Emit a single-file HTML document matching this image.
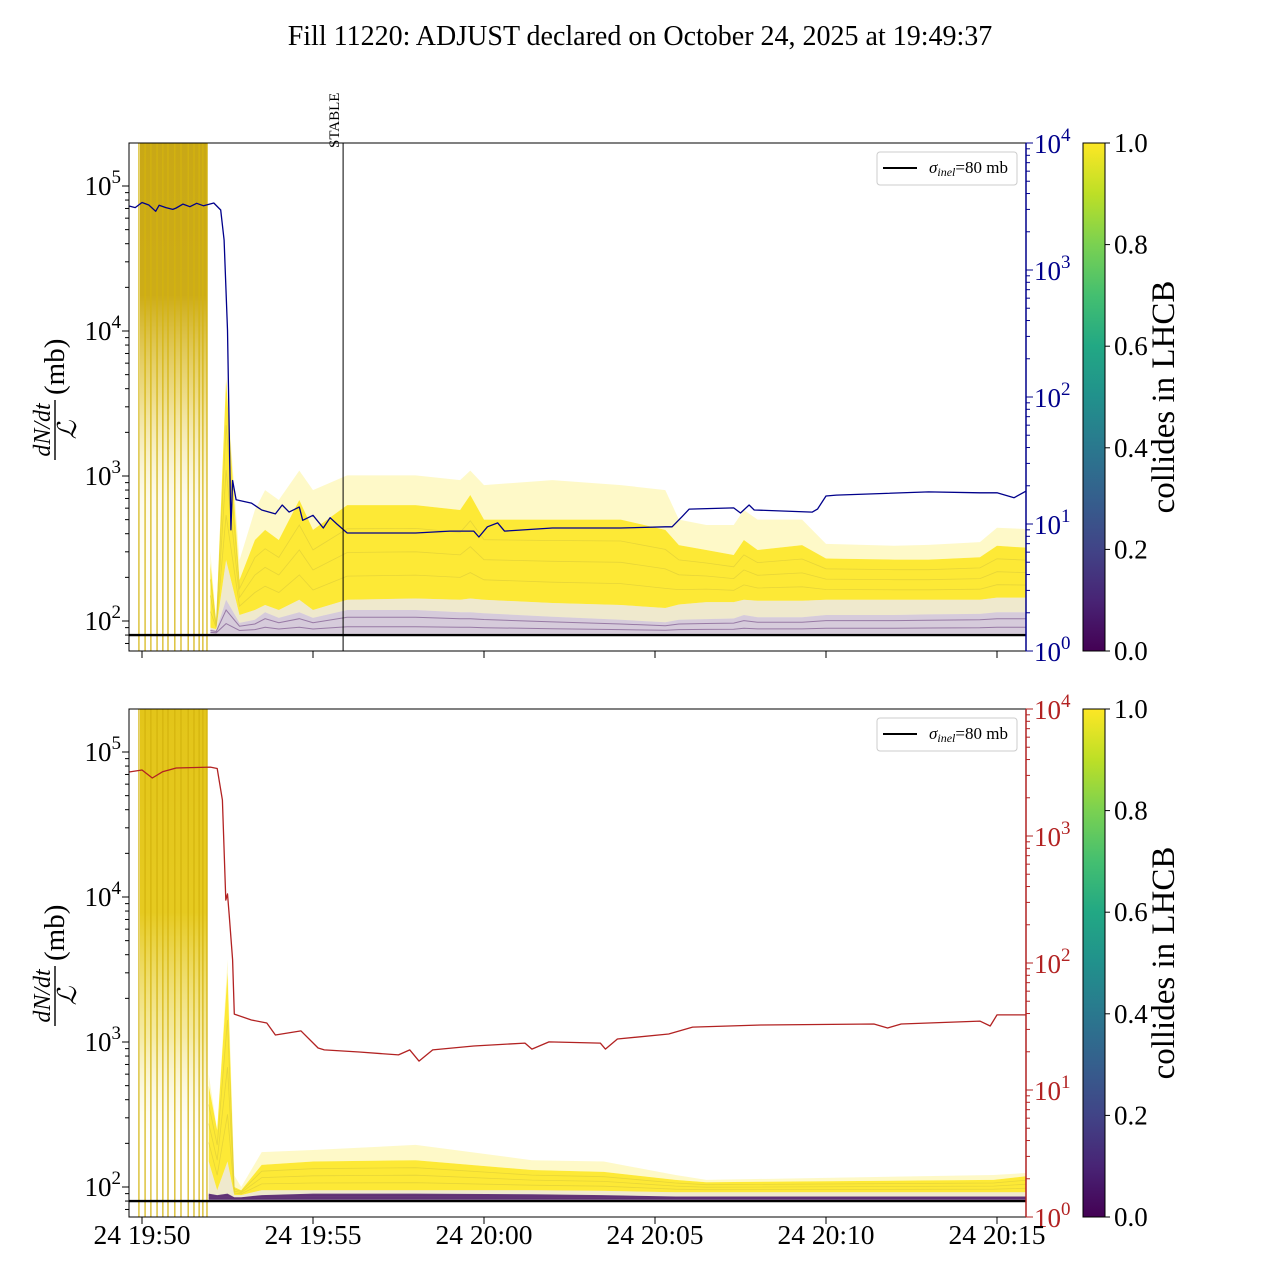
<!DOCTYPE html>
<html><head><meta charset="utf-8"><style>
body{margin:0;background:#fff}
svg{display:block;font-family:"Liberation Serif",serif}
</style></head><body>
<svg id="chart" width="1280" height="1280" viewBox="0 0 1280 1280" xmlns="http://www.w3.org/2000/svg">
<defs>
<linearGradient id="vir" x1="0" y1="1" x2="0" y2="0">
<stop offset="0" stop-color="#440154"/><stop offset="0.1" stop-color="#482475"/><stop offset="0.2" stop-color="#414487"/><stop offset="0.3" stop-color="#355f8d"/><stop offset="0.4" stop-color="#2a788e"/><stop offset="0.5" stop-color="#21918c"/><stop offset="0.6" stop-color="#22a884"/><stop offset="0.7" stop-color="#44bf70"/><stop offset="0.8" stop-color="#7ad151"/><stop offset="0.9" stop-color="#bddf26"/><stop offset="1" stop-color="#fde725"/>
</linearGradient>
<linearGradient id="preTop" x1="0" y1="0" x2="0" y2="1">
<stop offset="0" stop-color="#c9a816"/><stop offset="0.3" stop-color="#cdac18"/><stop offset="0.5" stop-color="#e2c53a" stop-opacity="0.6"/><stop offset="0.7" stop-color="#f0e080" stop-opacity="0.15"/><stop offset="1" stop-color="#fff" stop-opacity="0"/>
</linearGradient>
<linearGradient id="preBot" x1="0" y1="0" x2="0" y2="1">
<stop offset="0" stop-color="#e3c51a"/><stop offset="0.4" stop-color="#e6ca20"/><stop offset="0.65" stop-color="#ecd850" stop-opacity="0.5"/><stop offset="0.9" stop-color="#fff" stop-opacity="0"/>
</linearGradient>
<clipPath id="clipTop"><rect x="129" y="143" width="897" height="508"/></clipPath>
<clipPath id="clipBot"><rect x="129" y="709" width="897" height="508"/></clipPath>
</defs>
<text x="640" y="45" font-size="28" text-anchor="middle">Fill 11220: ADJUST declared on October 24, 2025 at 19:49:37</text>
</svg>
<script>
// ---- data (time in minutes after 19:50) ----
const xTickLabels=["24 19:50","24 19:55","24 20:00","24 20:05","24 20:10","24 20:15"];
const xTickTimes=[0,5,10,15,20,25];
const stableTime=5.88;
const sigmaInel=80;
const gapLineTimes=[-0.09,0.09,0.26,0.44,0.61,0.76,0.96,1.14,1.35,1.52,1.67,1.78,1.9];
const preRampStart=-0.06, preRampEnd=1.92;
// top panel bands
const topT=[2.0,2.17,2.46,2.85,3.3,3.6,4.0,4.6,5.0,6.0,8.0,9.3,9.6,10.0,12.0,14.0,15.3,15.7,16.5,17.3,17.6,18.0,19.3,20.0,22.0,23.0,24.5,25.0,25.9];
const topOuter=[300,100,4890,263,583,800,683,1090,800,1010,1010,937,1090,866,937,866,800,500,459,459,583,500,500,340,330,335,350,440,430];
const topCore=[250,97,4590,192,362,425,362,683,425,630,630,583,740,500,500,500,425,334,309,285,362,309,334,270,265,265,275,330,320];
const topBot=[90,88,263,110,119,129,119,140,119,140,143,140,143,140,133,129,123,130,135,135,140,138,138,140,140,140,140,145,145];
const topPurp=[88,86,140,97,102,115,105,115,105,119,119,115,115,113,107,102,98,102,103,104,110,106,106,110,110,111,112,115,115];
// bottom panel bands
const botT=[1.95,2.2,2.5,2.7,2.9,3.5,5.0,8.0,11.4,13.5,15.6,16.5,24.9,25.9];
const botOuter=[600,247,3680,120,100,174,180,195,153,150,121,112,121,125];
const botCore=[500,247,3000,100,95,142,150,153,131,127,112,108,112,119];
const botBot=[150,95,150,88,88,95,95,95,95,94,92,92,92,92];
const botPurp=[90,88,90,85,85,88,90,90,89,88,86,86,86,86];
// top right axis series (navy)
const blueT=[-0.38,-0.2,0,0.2,0.4,0.5,0.7,0.9,1.0,1.2,1.4,1.6,1.8,2.1,2.3,2.4,2.5,2.55,2.6,2.65,2.75,3.2,3.5,3.9,4.1,4.3,4.6,4.7,5.0,5.3,5.5,5.7,6.0,6.5,8.0,9.0,9.7,9.85,10.1,10.4,10.6,12.0,14.0,15.3,15.5,15.8,16.0,17.3,17.5,17.75,17.9,19.6,19.75,20.0,20.3,23.0,24.5,25.0,25.5,25.9];
const blueV=[3190,3100,3400,3250,2900,3230,3100,3000,3080,3300,3150,3350,3200,3370,2970,1720,337,55,9.0,22,15.5,14.6,12.9,12.0,14.1,12.4,13.6,10.7,11.7,9.3,11.2,10.0,8.5,8.5,8.5,8.8,8.8,7.9,9.5,10.2,8.8,9.3,9.3,9.5,9.5,11.5,13.1,13.4,12.2,14.1,12.9,12.4,13.1,16.6,16.9,17.9,17.6,17.6,16.1,18.5];
// bottom right axis series (red)
const redT=[-0.38,0,0.3,0.6,1.0,2.0,2.2,2.35,2.45,2.5,2.55,2.65,2.7,3.2,3.65,3.9,4.65,5.15,5.33,6.35,7.5,7.83,8.1,8.5,9.7,11.2,11.4,11.9,13.4,13.55,13.9,15.4,16.1,18.1,21.4,21.8,22.2,24.5,24.8,25.0,25.9];
const redV=[3190,3310,2860,3200,3430,3490,3400,1920,313,350,239,106,39.6,35.6,33.7,27.1,29.2,21.4,20.7,19.9,18.9,20.7,16.9,20.7,22.2,23.4,21.0,23.9,23.4,21.0,25.2,27.6,31.3,32.5,33.1,30.8,33.1,34.9,31.9,39.0,39.0];
const cbTicks=[0,0.2,0.4,0.6,0.8,1.0];

// ---- geometry ----
const NS="http://www.w3.org/2000/svg";
const svg=document.getElementById('chart');
const X0=129,X1=1026;
function xs(t){return 142+t*34.2;}
function mk(tag,attrs,parent){const e=document.createElementNS(NS,tag);for(const k in attrs)e.setAttribute(k,attrs[k]);(parent||svg).appendChild(e);return e;}
const panels=[
 {top:143,bot:651,l5:186,rTop:143,color:"#00008b",clip:"url(#clipTop)",grad:"url(#preTop)",T:topT,O:topOuter,C:topCore,B:topBot,P:topPurp,sT:blueT,sV:blueV,name:"top",xlabels:false,purpFill:"#8a6a98",purpOp:0.35},
 {top:709,bot:1217,l5:752,rTop:709,color:"#b22222",clip:"url(#clipBot)",grad:"url(#preBot)",T:botT,O:botOuter,C:botCore,B:botBot,P:botPurp,sT:redT,sV:redV,name:"bottom",xlabels:true,purpFill:"#4a1560",purpOp:0.85}
];
panels.forEach(p=>{
 const yl=v=>p.l5+(5-Math.log10(v))*145;
 const yr=v=>p.rTop+(4-Math.log10(v))*127;
 const g=mk('g',{'clip-path':p.clip});
 
 
 const pre=mk('rect',{x:xs(preRampStart),y:p.top,width:xs(preRampEnd)-xs(preRampStart),height:(p.bot-p.top),fill:p.grad},g);
 
 
 gapLineTimes.forEach(t=>{
  const ln=mk('line',{x1:xs(t),x2:xs(t),y1:p.top,y2:p.bot,stroke:"#d4b40e","stroke-width":1.2},g);
  
  
 });
 function band(upper,lower,fill,op,name){
  let d="";
  p.T.forEach((t,i)=>{d+=(i?"L":"M")+xs(t).toFixed(1)+","+yl(upper[i]).toFixed(1);});
  for(let i=p.T.length-1;i>=0;i--)d+="L"+xs(p.T[i]).toFixed(1)+","+yl(lower[i]).toFixed(1);
  const e=mk('path',{d:d+"Z",fill:fill,'fill-opacity':op},g);
  
  
 }
 band(p.O,p.C,"#fde725",0.25,'outer-bunch-band');
 band(p.C,p.B,"#fde725",0.92,'core-bunch-band');
 band(p.B,p.P,"#d0c070",0.35,'mixed-bunch-band');
 const floor=p.P.map(()=>sigmaInel*1.02);
 band(p.P,floor,p.purpFill,p.purpOp,'non-colliding-bunch-band');
 [0.25,0.5,0.75].forEach(f=>{
  let d="";
  p.T.forEach((t,i)=>{const v=Math.pow(10,Math.log10(p.B[i])*(1-f)+Math.log10(p.C[i])*f);d+=(i?"L":"M")+xs(t).toFixed(1)+","+yl(v).toFixed(1);});
  const e=mk('path',{d:d,fill:"none",stroke:"#d8c83a","stroke-width":0.8,"stroke-opacity":0.6},g);
  
  
 });
 [0.3,0.7].forEach(f=>{
  let d="";
  p.T.forEach((t,i)=>{const v=Math.pow(10,Math.log10(p.P[i])*(1-f)+Math.log10(sigmaInel*1.02)*f);d+=(i?"L":"M")+xs(t).toFixed(1)+","+yl(v).toFixed(1);});
  const e=mk('path',{d:d,fill:"none",stroke:"#5a2a70","stroke-width":1,"stroke-opacity":0.5},g);
  
  
 });
 const sl=mk('line',{x1:X0,x2:X1,y1:yl(sigmaInel),y2:yl(sigmaInel),stroke:"#000","stroke-width":2.4});
 
 
 let d="";
 p.sT.forEach((t,i)=>{d+=(i?"L":"M")+xs(t).toFixed(1)+","+yr(p.sV[i]).toFixed(1);});
 const sr=mk('path',{d:d,fill:"none",stroke:p.color,"stroke-width":1.3,"stroke-linejoin":"round"},g);
 
 
 if(p.name==="top"){
  const st=mk('line',{x1:xs(stableTime),x2:xs(stableTime),y1:p.top,y2:p.bot,stroke:"#000","stroke-width":1});
  
  
  const stt=mk('text',{x:xs(stableTime)-4,y:p.top+5,"font-size":15,transform:`rotate(-90 ${xs(stableTime)-4} ${p.top+5})`});
  stt.textContent="STABLE";
  
  
 }
 const fr=mk('rect',{x:X0,y:p.top,width:X1-X0,height:p.bot-p.top,fill:"none",stroke:"#000","stroke-width":1});
 
 
 const rs=mk('line',{x1:X1,x2:X1,y1:p.top,y2:p.bot,stroke:p.color,"stroke-width":1.5});
 
 
 for(let e=1;e<=5;e++){for(let m=1;m<10;m++){const v=m*Math.pow(10,e);const y=yl(v);if(y<p.top||y>p.bot)continue;
  mk('line',{x1:X0,x2:X0-(m===1?7:4),y1:y,y2:y,stroke:"#000","stroke-width":1});
  if(m===1&&e>=2){const tx=mk('text',{x:121,y:y+9,"font-size":27,"text-anchor":"end"});
   tx.innerHTML=`10<tspan dy="-12" font-size="19">${e}</tspan>`;
   
   }
 }}
 for(let e=0;e<=4;e++){for(let m=1;m<10;m++){const v=m*Math.pow(10,e);const y=yr(v);if(y<p.top-0.5||y>p.bot+0.5)continue;
  mk('line',{x1:X1,x2:X1+(m===1?7:4),y1:y,y2:y,stroke:p.color,"stroke-width":1});
  if(m===1){const tx=mk('text',{x:1034,y:y+10,"font-size":27,fill:p.color});
   tx.innerHTML=`10<tspan dy="-12" font-size="19">${e}</tspan>`;
   
   }
 }}
 xTickTimes.forEach((t,i)=>{
  mk('line',{x1:xs(t),x2:xs(t),y1:p.bot,y2:p.bot+7,stroke:"#000","stroke-width":1});
  if(p.xlabels){const tx=mk('text',{x:xs(t),y:1244,"font-size":27.5,"text-anchor":"middle"});tx.textContent=xTickLabels[i];
   
   }
 });
 const cy=(p.top+p.bot)/2;
 const yg=mk('g',{transform:`translate(0 ${cy}) rotate(-90)`});
 
 
 mk('text',{x:-33,y:50,"font-size":24,"font-style":"italic","text-anchor":"middle"},yg).textContent="dN/dt";
 mk('line',{x1:-63,x2:-3,y1:55,y2:55,stroke:"#000","stroke-width":1.4},yg);
 mk('text',{x:-33,y:76,"font-size":26,"font-style":"italic","text-anchor":"middle"},yg).textContent="ℒ";
 mk('text',{x:2,y:64,"font-size":29},yg).textContent="(mb)";
 const lg=mk('g',{});
 
 
 mk('rect',{x:877,y:p.top+9,width:140,height:33,rx:3,fill:"#fff","fill-opacity":0.85,stroke:"#ccc","stroke-width":1},lg);
 mk('line',{x1:883,x2:917,y1:p.top+25,y2:p.top+25,stroke:"#000","stroke-width":2},lg);
 const lt=mk('text',{x:929,y:p.top+30,"font-size":17},lg);
 lt.innerHTML=`<tspan font-style="italic">σ</tspan><tspan font-style="italic" font-size="12" dy="3">inel</tspan><tspan dy="-3">=80 mb</tspan>`;
 const cb=mk('rect',{x:1083,y:p.top,width:22,height:p.bot-p.top,fill:"url(#vir)",stroke:"#000","stroke-width":1});
 
 
 cbTicks.forEach(v=>{const y=p.bot-v*(p.bot-p.top);
  mk('line',{x1:1105,x2:1110,y1:y,y2:y,stroke:"#000","stroke-width":1});
  const tx=mk('text',{x:1114,y:y+9,"font-size":27});tx.textContent=v.toFixed(1);
  
  });
 const cl=mk('text',{x:1174,y:cy,"font-size":33,"text-anchor":"middle",transform:`rotate(-90 1174 ${cy})`});
 cl.textContent="collides in LHCB";
 
 
});
</script>
</body></html>
